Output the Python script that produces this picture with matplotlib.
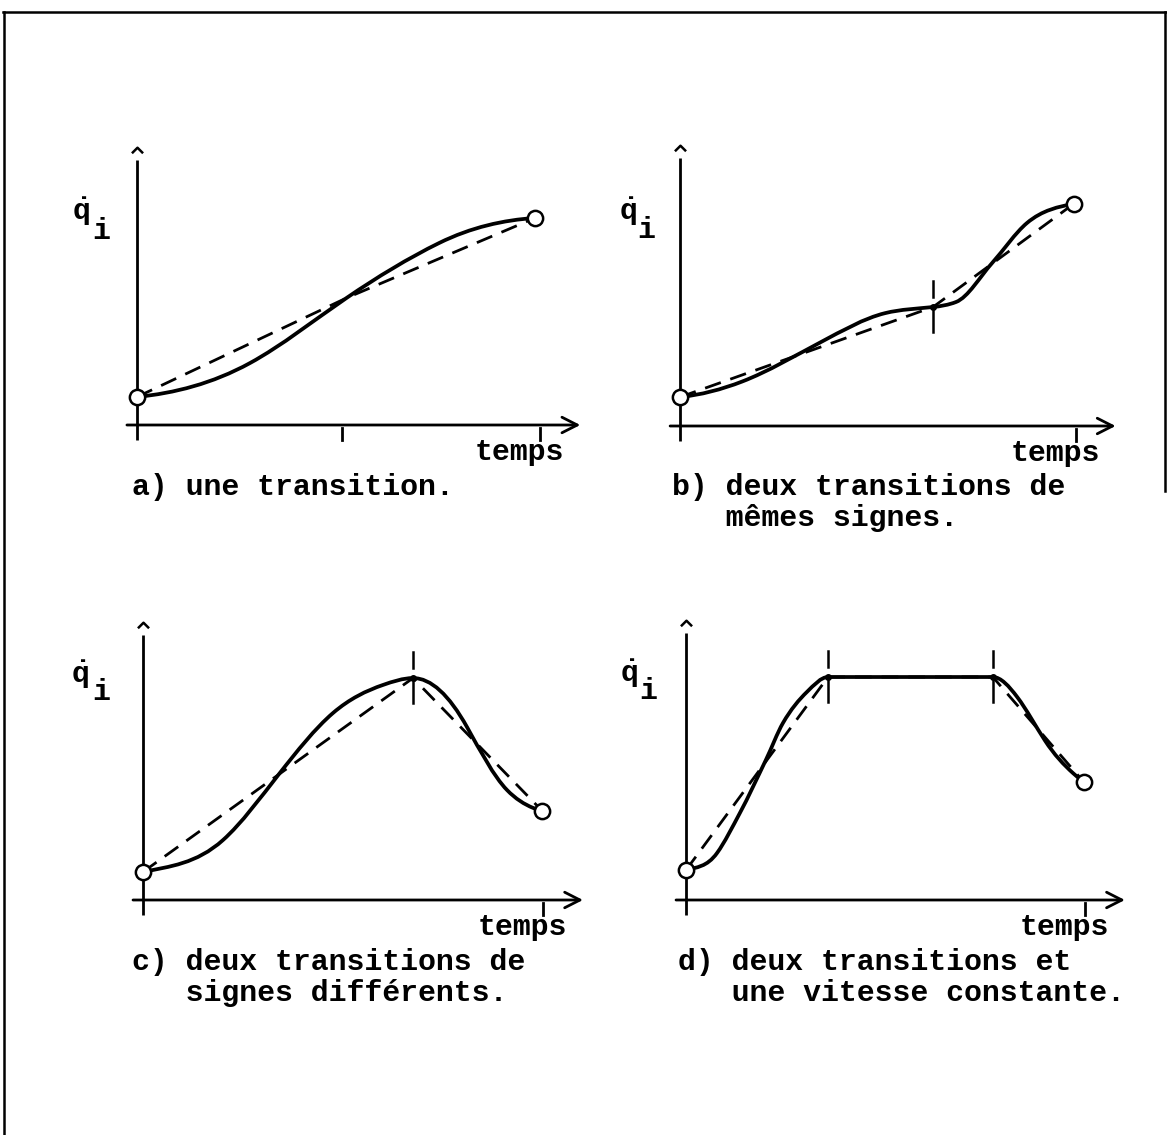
import matplotlib.pyplot as plt
from matplotlib.path import Path
from matplotlib.patches import PathPatch
from matplotlib.lines import Line2D

# ---- data (time t: 0 = origin tick, 1 = end tick; value v: 0 = time axis, 1 = top of axis)
# a) une transition
a_curve_t = [0.0, 0.28, 0.52, 0.75, 0.988]
a_curve_v = [0.102, 0.225, 0.462, 0.662, 0.753]
a_curve_slope = [0.15, 0.8, 1.0, 0.72, 0.1]
a_chord_t = [0.0, 0.52, 0.988]
a_chord_v = [0.102, 0.462, 0.753]
a_transitions = []
a_ticks = [0.509, 1.0]

# b) deux transitions de mêmes signes
b_curve_t = [0.0, 0.157, 0.356, 0.518, 0.639, 0.697, 0.788, 0.876, 0.995]
b_curve_v = [0.104, 0.16, 0.302, 0.406, 0.428, 0.446, 0.586, 0.73, 0.80]
b_curve_slope = [0.15, 0.55, 0.75, 0.35, 0.15, 0.55, 1.6, 1.2, 0.3]
b_chord_t = [0.0, 0.639, 0.995]
b_chord_v = [0.104, 0.428, 0.80]
b_transitions = [1]
b_ticks = [1.0]

# c) deux transitions de signes différents
c_curve_t = [0.0, 0.2, 0.34, 0.475, 0.6, 0.675, 0.81, 0.91, 0.975, 0.998]
c_curve_v = [0.102, 0.218, 0.458, 0.68, 0.782, 0.807, 0.629, 0.40, 0.335, 0.324]
c_curve_slope = [0.3, 1.3, 1.85, 1.25, 0.5, 0.0, -2.6, -1.5, -0.6, -0.4]
c_chord_t = [0.0, 0.675, 0.998]
c_chord_v = [0.102, 0.807, 0.324]
c_transitions = [1]
c_ticks = [1.0]

# d) deux transitions et une vitesse constante
d_curve_t = [0.0, 0.078, 0.135, 0.2, 0.243, 0.303, 0.356, 0.769, 0.83, 0.9, 0.97, 0.997]
d_curve_v = [0.108, 0.17, 0.314, 0.505, 0.639, 0.751, 0.805, 0.805, 0.733, 0.575, 0.458, 0.426]
d_curve_slope = [0.4, 2.0, 2.7, 3.0, 2.5, 1.4, 0.0, 0.0, -1.9, -2.2, -1.3, -1.1]
d_chord_t = [0.0, 0.356, 0.769, 0.997]
d_chord_v = [0.108, 0.805, 0.805, 0.426]
d_transitions = [1, 2]
d_ticks = [1.0]

captions = {
    "a": ["a) une transition."],
    "b": ["b) deux transitions de", "   mêmes signes."],
    "c": ["c) deux transitions de", "   signes différents."],
    "d": ["d) deux transitions et", "   une vitesse constante."],
}

W, H = 1167, 1135
plt.rcParams['font.family'] = ['Liberation Mono', 'DejaVu Sans Mono']
plt.rcParams['mathtext.fontset'] = 'custom'
plt.rcParams['mathtext.rm'] = 'Liberation Mono:bold'
plt.rcParams['mathtext.it'] = 'Liberation Mono:bold'
FS = 21.5
fig = plt.figure(figsize=(W / 100, H / 100), dpi=100)


def px_text(x, y, s, **kw):
    fig.text(x / W, 1 - y / H, s, fontsize=FS, fontweight='bold', **kw)


def panel_axes(x0, w, y0, h):
    # place an axes so that t=0..1 spans w px from x0 and v=0..1 spans h px up from y0
    xl, xr, yb, yt = -0.3, 1.25, -0.3, 1.1
    ax = fig.add_axes([(x0 + xl * w) / W, (H - (y0 - yb * h)) / H,
                       (xr - xl) * w / W, (yt - yb) * h / H])
    ax.set_xlim(xl, xr)
    ax.set_ylim(yb, yt)
    ax.axis('off')
    return ax


def draw_panel(ax, ct, cv, cs, kt, kv, trans, ticks):
    k = dict(color='black', clip_on=False)
    # axes
    ax.plot([0, 0], [-0.055, 0.965], lw=2.0, solid_capstyle='butt', **k)
    ax.annotate('', xy=(1.10, 0), xytext=(-0.025, 0),
                arrowprops=dict(arrowstyle='->,head_length=0.55,head_width=0.28',
                                lw=2.0, color='black', shrinkA=0, shrinkB=0,
                                mutation_scale=20))
    caret = Path([(-1, -0.5), (0, 0.5), (1, -0.5)],
                 [Path.MOVETO, Path.LINETO, Path.LINETO])
    ax.plot([0], [1.0], marker=caret, ms=8, mfc='none', mec='black', mew=1.8, **k)
    for t in ticks:
        ax.plot([t, t], [-0.01, -0.055], lw=2.0, **k)
    # chord (dashed)
    ax.plot(kt, kv, lw=2.0, ls=(0, (6, 3.6)), **k)
    # smooth trajectory as cubic Bezier segments through the knots
    verts = [(ct[0], cv[0])]
    codes = [Path.MOVETO]
    for i in range(len(ct) - 1):
        h = ct[i + 1] - ct[i]
        verts += [(ct[i] + h / 3, cv[i] + cs[i] * h / 3),
                  (ct[i + 1] - h / 3, cv[i + 1] - cs[i + 1] * h / 3),
                  (ct[i + 1], cv[i + 1])]
        codes += [Path.CURVE4] * 3
    ax.add_patch(PathPatch(Path(verts, codes), fill=False, lw=2.7,
                           ec='black', capstyle='round', clip_on=False))
    # transitions
    for j in trans:
        t, v = kt[j], kv[j]
        ax.plot([t, t], [v + 0.035, v + 0.095], lw=1.8, **k)
        ax.plot([t, t], [v - 0.015, v - 0.09], lw=1.8, **k)
        ax.plot([t], [v], 'o', ms=4, mfc='black', mec='black', **k)
    # end points
    ax.plot([kt[0], kt[-1]], [kv[0], kv[-1]], 'o', ms=11, mfc='white',
            mec='black', mew=1.8, zorder=5, **k)
    ax.text(1.06, -0.127, 'temps', ha='right', va='baseline',
            fontsize=FS, fontweight='bold')


ax_a = panel_axes(137, 403, 425, 275)
draw_panel(ax_a, a_curve_t, a_curve_v, a_curve_slope, a_chord_t, a_chord_v,
           a_transitions, a_ticks)
ax_b = panel_axes(680, 396, 426, 278)
draw_panel(ax_b, b_curve_t, b_curve_v, b_curve_slope, b_chord_t, b_chord_v,
           b_transitions, b_ticks)
ax_c = panel_axes(143, 400, 900, 275)
draw_panel(ax_c, c_curve_t, c_curve_v, c_curve_slope, c_chord_t, c_chord_v,
           c_transitions, c_ticks)
ax_d = panel_axes(686, 399, 900, 277)
draw_panel(ax_d, d_curve_t, d_curve_v, d_curve_slope, d_chord_t, d_chord_v,
           d_transitions, d_ticks)

# y labels: q with a dot above, subscript i
for qx, qy, ix, iy in [(81, 220, 101, 239), (628, 220, 646, 238),
                       (80, 683, 101, 700), (629, 682, 648, 699)]:
    px_text(qx, qy, r'$\dot{\mathrm{q}}$', ha='center', va='baseline')
    px_text(ix, iy, 'i', ha='center', va='baseline')

# captions
for key, (x, y) in zip("abcd", [(132, 495), (672, 495), (132, 970), (678, 970)]):
    for j, line in enumerate(captions[key]):
        px_text(x, y + 31 * j, line, ha='left', va='baseline')

# page frame
for xs, ys in [([3, 1166], [12, 12]), ([4, 4], [12, 1135]), ([1165, 1165], [12, 491])]:
    fig.add_artist(Line2D([x / W for x in xs], [1 - y / H for y in ys],
                          transform=fig.transFigure, color='black', lw=1.8))

fig.savefig('out.png', dpi=100)
